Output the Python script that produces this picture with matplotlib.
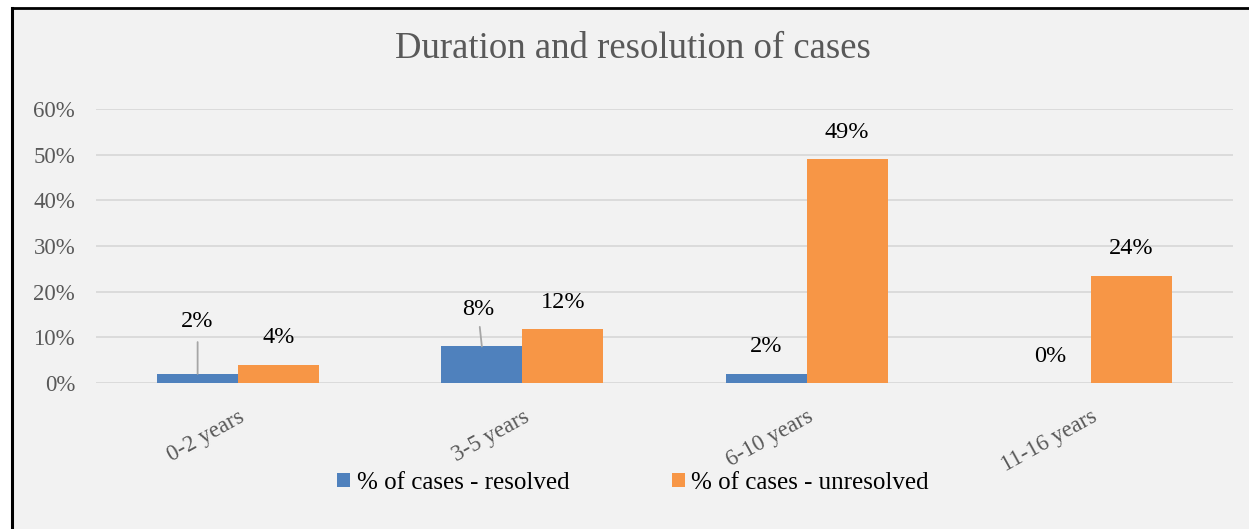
import matplotlib
matplotlib.use("Agg")
import matplotlib.pyplot as plt
import numpy as np
from matplotlib.patches import Rectangle
from matplotlib.lines import Line2D

categories = ["0-2 years", "3-5 years", "6-10 years", "11-16 years"]
resolved = [0.02, 0.08, 0.02, 0.0]
unresolved = [0.04, 0.118, 0.49, 0.235]
series_names = ["% of cases - resolved", "% of cases - unresolved"]
yticks = [0, 0.1, 0.2, 0.3, 0.4, 0.5, 0.6]

plt.rcParams['font.family'] = ['Liberation Serif', 'DejaVu Serif']

W, H = 1249, 529
fig = plt.figure(figsize=(W / 100, H / 100), dpi=100)
fig.patch.set_facecolor("white")
# chart background with frame
fig.patches.append(Rectangle((12 / W, 0), 1.0, 1 - 8 / H, transform=fig.transFigure,
                             facecolor="#f2f2f2", edgecolor="none", zorder=-10))
fig.lines.append(Line2D([11.5 / W, 11.5 / W], [0, 1 - 8 / H], transform=fig.transFigure,
                        color="black", lw=2.2))
fig.lines.append(Line2D([11.5 / W, 1], [1 - 8 / H, 1 - 8 / H], transform=fig.transFigure,
                        color="black", lw=2.0))

left, right = 96 / W, 1233 / W
y0, y60 = 383, 109
bottom = 1 - y0 / H
top = 1 - y60 / H
ax = fig.add_axes([left, bottom, right - left, top - bottom])
ax.set_facecolor("none")

x = np.arange(len(categories))
bw = 0.285
b1 = ax.bar(x - bw / 2, resolved, bw, color="#4f81bd", label=series_names[0], zorder=3)
b2 = ax.bar(x + bw / 2, unresolved, bw, color="#f79646", label=series_names[1], zorder=3)

ax.set_xlim(-0.5, len(categories) - 0.5)
ax.set_ylim(0, 0.6)
ax.set_yticks(yticks)
ax.set_yticklabels([f"{int(round(t * 100))}%" for t in yticks], color="#595959", fontsize=16.5)
ax.yaxis.grid(True, color="#d9d9d9", lw=1.3, zorder=0)
ax.set_axisbelow(True)
for s in ax.spines.values():
    s.set_visible(False)
ax.tick_params(axis="both", length=0)
ax.tick_params(axis="y", pad=15)
ax.set_xticks(x)
ax.set_xticklabels(categories, rotation=29, ha="right", rotation_mode="anchor",
                   color="#595959", fontsize=16.5)
ax.tick_params(axis="x", pad=17)

# data labels
lab_fs = 17.5
for i, v in enumerate(resolved):
    xc = x[i] - bw / 2
    txt = f"{int(round(v * 100))}%"
    if i == 0:
        ax.annotate(txt, xy=(xc, v), xytext=(0, 52), textcoords="offset pixels",
                    ha="center", va="center", fontsize=lab_fs,
                    arrowprops=dict(arrowstyle="-", color="#a6a6a6", lw=1.3,
                                    shrinkA=5, shrinkB=0))
    elif i == 1:
        ax.annotate(txt, xy=(xc, v), xytext=(-4, 37), textcoords="offset pixels",
                    ha="center", va="center", fontsize=lab_fs,
                    arrowprops=dict(arrowstyle="-", color="#a6a6a6", lw=1.3,
                                    shrinkA=3, shrinkB=0))
    else:
        ax.annotate(txt, xy=(xc, v), xytext=(0, 27), textcoords="offset pixels",
                    ha="center", va="center", fontsize=lab_fs)
for i, v in enumerate(unresolved):
    xc = x[i] + bw / 2
    txt = f"{int(round(v * 100))}%"
    ax.annotate(txt, xy=(xc, v), xytext=(0, 27), textcoords="offset pixels",
                ha="center", va="center", fontsize=lab_fs)

fig.text((394 + 872) / 2 / W, 1 - 49 / H, "Duration and resolution of cases",
         ha="center", va="center", fontsize=26.5, color="#595959")

leg = fig.legend(handles=[b1, b2], labels=series_names, loc="center",
                 bbox_to_anchor=(633 / W, 1 - 483 / H), ncol=2, frameon=False,
                 fontsize=18, handlelength=0.52, handleheight=0.52, handletextpad=0.25,
                 columnspacing=4.1, borderpad=0, borderaxespad=0)

fig.savefig("out.png", dpi=100, facecolor=fig.get_facecolor())
